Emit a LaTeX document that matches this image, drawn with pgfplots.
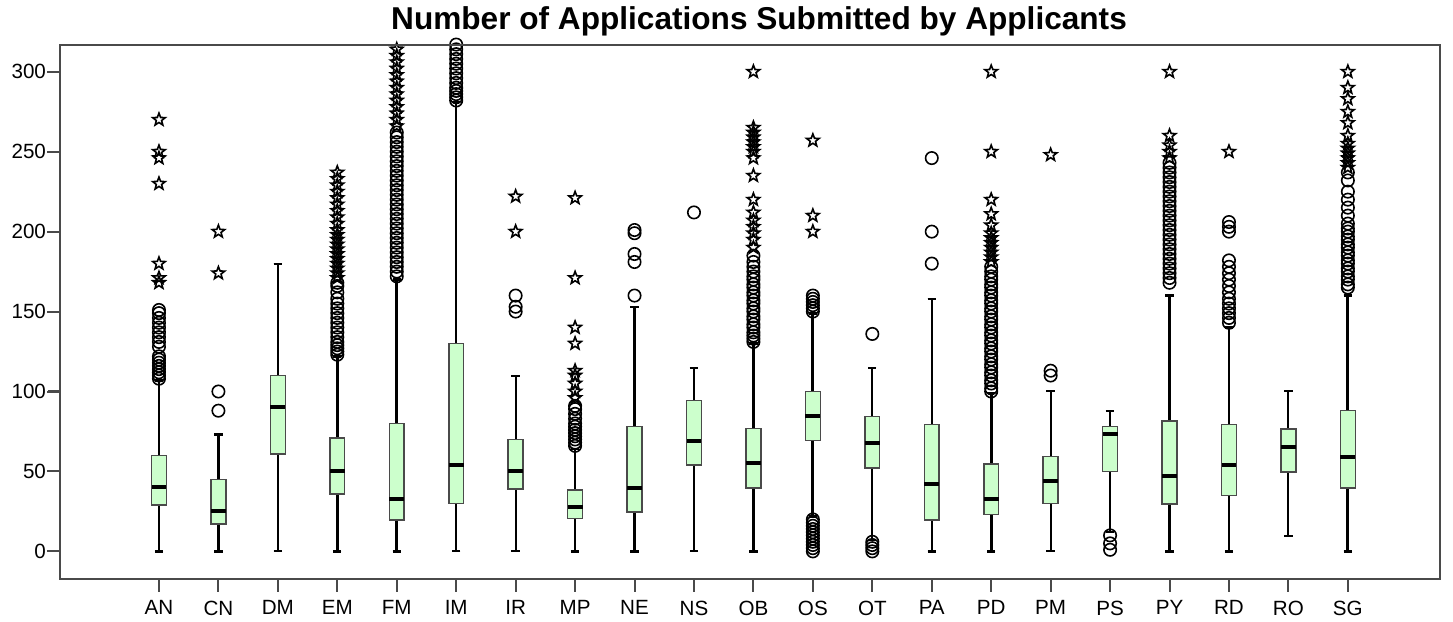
\documentclass[border=0pt]{standalone}
\usepackage{fontspec}
\setmainfont{Liberation Sans}
\usepackage{pgfplots}
\pgfplotsset{compat=1.18}
\usepgfplotslibrary{statistics}
\definecolor{boxgreen}{HTML}{CCFFCC}
\definecolor{framegray}{HTML}{4A4A4A}

% SPSS style extreme-value star (outlined pentagram)
\pgfdeclareplotmark{pstar}{%
  \pgfpathmoveto{\pgfqpointpolar{90}{\pgfplotmarksize}}%
  \pgfpathlineto{\pgfqpointpolar{126}{0.42\pgfplotmarksize}}%
  \pgfpathlineto{\pgfqpointpolar{162}{\pgfplotmarksize}}%
  \pgfpathlineto{\pgfqpointpolar{198}{0.42\pgfplotmarksize}}%
  \pgfpathlineto{\pgfqpointpolar{234}{\pgfplotmarksize}}%
  \pgfpathlineto{\pgfqpointpolar{270}{0.42\pgfplotmarksize}}%
  \pgfpathlineto{\pgfqpointpolar{306}{\pgfplotmarksize}}%
  \pgfpathlineto{\pgfqpointpolar{342}{0.42\pgfplotmarksize}}%
  \pgfpathlineto{\pgfqpointpolar{18}{\pgfplotmarksize}}%
  \pgfpathlineto{\pgfqpointpolar{54}{0.42\pgfplotmarksize}}%
  \pgfpathclose\pgfusepathqstroke}

\pgfplotsset{
  bx/.style={fill=boxgreen, draw=black,
    boxplot/draw direction=y,
    boxplot/box extend=0.25, boxplot/whisker extend=0.14,
    boxplot/every box/.style={draw=framegray, line width=0.75pt},
    boxplot/every whisker/.style={black, line width=#1},
    boxplot/every median/.style={black, line width=2pt}},
  bx/.default=1.4pt,
}

\begin{document}
\begin{tikzpicture}
\begin{axis}[
  scale only axis,
  width=690pt, height=267pt,
  xmin=-1.665, xmax=21.55,
  ymin=-17, ymax=317,
  clip mode=individual,
  axis lines=left,
  axis line style={-, framegray, line width=1pt},
  xtick={0,...,20},
  xticklabels={AN,CN,DM,EM,FM,IM,IR,MP,NE,NS,OB,OS,OT,PA,PD,PM,PS,PY,RD,RO,SG},
  ytick={0,50,...,300},
  tick align=outside,
  major tick length=6pt,
  every tick/.style={draw=framegray, line width=1pt},
  ticklabel style={font=\fontsize{10.3}{12}\selectfont},
  xticklabel style={yshift=-1.5pt},
  yticklabel style={xshift=2.5pt},
  /pgf/number format/assume math mode=true,
]
% boxes: lower whisker, q1, median, q3, upper whisker
\addplot[bx, boxplot prepared={draw position=0, lower whisker=0, lower quartile=29, median=40, upper quartile=60, upper whisker=107}] coordinates {};
\addplot[bx, boxplot prepared={draw position=1, lower whisker=0, lower quartile=17, median=25, upper quartile=45, upper whisker=73}] coordinates {};
\addplot[bx=1pt, boxplot prepared={draw position=2, lower whisker=0, lower quartile=61, median=90, upper quartile=110, upper whisker=180}] coordinates {};
\addplot[bx, boxplot prepared={draw position=3, lower whisker=0, lower quartile=36, median=50, upper quartile=71, upper whisker=122}] coordinates {};
\addplot[bx, boxplot prepared={draw position=4, lower whisker=0, lower quartile=19.5, median=33, upper quartile=80, upper whisker=170}] coordinates {};
\addplot[bx=1pt, boxplot prepared={draw position=5, lower whisker=0, lower quartile=30, median=54, upper quartile=130, upper whisker=281}] coordinates {};
\addplot[bx=1pt, boxplot prepared={draw position=6, lower whisker=0, lower quartile=39, median=50, upper quartile=70, upper whisker=110}] coordinates {};
\addplot[bx, boxplot prepared={draw position=7, lower whisker=0, lower quartile=20.5, median=28, upper quartile=38.5, upper whisker=64}] coordinates {};
\addplot[bx=1.2pt, boxplot prepared={draw position=8, lower whisker=0, lower quartile=24.5, median=39.5, upper quartile=78, upper whisker=153}] coordinates {};
\addplot[bx=1pt, boxplot prepared={draw position=9, lower whisker=0, lower quartile=54, median=69, upper quartile=94.5, upper whisker=115}] coordinates {};
\addplot[bx, boxplot prepared={draw position=10, lower whisker=0, lower quartile=39.5, median=55, upper quartile=77, upper whisker=130}] coordinates {};
\addplot[bx, boxplot prepared={draw position=11, lower whisker=22, lower quartile=69.5, median=84.5, upper quartile=100, upper whisker=149}] coordinates {};
\addplot[bx=1pt, boxplot prepared={draw position=12, lower whisker=7, lower quartile=52, median=67.5, upper quartile=84.5, upper whisker=115}] coordinates {};
\addplot[bx=1.2pt, boxplot prepared={draw position=13, lower whisker=0, lower quartile=19.5, median=42, upper quartile=79.5, upper whisker=158}] coordinates {};
\addplot[bx, boxplot prepared={draw position=14, lower whisker=0, lower quartile=23, median=33, upper quartile=54.5, upper whisker=99}] coordinates {};
\addplot[bx=1pt, boxplot prepared={draw position=15, lower whisker=0, lower quartile=30, median=44, upper quartile=59.5, upper whisker=100}] coordinates {};
\addplot[bx=1pt, boxplot prepared={draw position=16, lower whisker=12, lower quartile=50, median=73.5, upper quartile=78, upper whisker=88}] coordinates {};
\addplot[bx, boxplot prepared={draw position=17, lower whisker=0, lower quartile=29.5, median=47, upper quartile=81.5, upper whisker=160}] coordinates {};
\addplot[bx=1.2pt, boxplot prepared={draw position=18, lower whisker=0, lower quartile=35, median=54, upper quartile=79.5, upper whisker=140}] coordinates {};
\addplot[bx=1pt, boxplot prepared={draw position=19, lower whisker=9.5, lower quartile=49.5, median=65, upper quartile=76.5, upper whisker=100}] coordinates {};
\addplot[bx, boxplot prepared={draw position=20, lower whisker=0, lower quartile=39.5, median=59, upper quartile=88, upper whisker=160}] coordinates {};

% outliers (circles)
\addplot[only marks, mark=o, mark size=3.1pt, mark options={black, line width=0.8pt}] table {
x y
0 108
0 110
0 112
0 114
0 116
0 118
0 120
0 122
0 128
0 131
0 134
0 137
0 140
0 143
0 146
0 149
0 151
1 88
1 100
3 123
3 125
3 127
3 129
3 131
3 134
3 137
3 140
3 143
3 146
3 149
3 152
3 155
3 158
3 162
3 166
3 168
4 172
4 175
4 178
4 181
4 184
4 187
4 190
4 193
4 196
4 199
4 202
4 205
4 208
4 211
4 214
4 217
4 220
4 223
4 226
4 229
4 232
4 235
4 238
4 241
4 244
4 247
4 250
4 253
4 256
4 259
4 262
5 282
5 284
5 286
5 288
5 290
5 293
5 296
5 299
5 302
5 305
5 308
5 311
5 314
5 317
6 150
6 153
6 160
7 66
7 68
7 70
7 72
7 74
7 76
7 78
7 80
7 83
7 86
7 89
7 91
8 160
8 181
8 186
8 199
8 201
9 212
10 131
10 133
10 135
10 137
10 140
10 142
10 145
10 147
10 150
10 152
10 155
10 157
10 160
10 162
10 165
10 167
10 170
10 172
10 175
10 178
10 181
10 185
11 150
11 152
11 154
11 156
11 158
11 160
11 0
11 2
11 4
11 6
11 8
11 10
11 12
11 14
11 16
11 18
11 20
12 136
12 0
12 2
12 4
12 6
13 180
13 200
13 246
14 100
14 102
14 105
14 107
14 110
14 112
14 115
14 117
14 120
14 122
14 125
14 127
14 130
14 132
14 135
14 137
14 140
14 142
14 145
14 147
14 150
14 152
14 155
14 157
14 160
14 162
14 165
14 167
14 170
14 172
14 175
14 178
15 110
15 113
16 1
16 5
16 10
17 168
17 171
17 174
17 177
17 180
17 183
17 186
17 189
17 192
17 195
17 198
17 201
17 204
17 207
17 210
17 213
17 216
17 219
17 222
17 225
17 228
17 231
17 234
17 237
17 240
17 243
18 143
18 146
18 149
18 152
18 155
18 158
18 162
18 166
18 170
18 174
18 178
18 182
18 200
18 203
18 206
20 165
20 167
20 170
20 172
20 175
20 177
20 180
20 182
20 185
20 187
20 190
20 192
20 195
20 197
20 200
20 202
20 205
20 210
20 215
20 220
20 225
20 232
20 237
};

% extreme values (stars)
\addplot[only marks, mark=pstar, mark size=3.3pt, mark options={black, line width=0.8pt}] table {
x y
0 168
0 171
0 180
0 230
0 246
0 250
0 270
1 174
1 200
3 171
3 174
3 177
3 180
3 183
3 186
3 189
3 192
3 195
3 198
3 201
3 205
3 209
3 213
3 217
3 221
3 225
3 229
3 233
3 237
4 266
4 270
4 274
4 278
4 282
4 286
4 290
4 294
4 298
4 302
4 306
4 310
4 314
6 200
6 222
7 96
7 100
7 105
7 110
7 113
7 130
7 140
7 171
7 221
10 190
10 195
10 199
10 203
10 207
10 212
10 220
10 235
10 246
10 250
10 253
10 256
10 259
10 262
10 265
10 300
11 200
11 210
11 257
14 181
14 184
14 187
14 190
14 193
14 196
14 199
14 204
14 211
14 220
14 250
14 300
15 248
17 246
17 250
17 254
17 260
17 300
18 250
20 240
20 243
20 246
20 249
20 252
20 255
20 260
20 268
20 275
20 283
20 290
20 300
};
\end{axis}
\draw[framegray, line width=1pt] (current axis.south west) rectangle (current axis.north east);
% tick marks as thin filled bars: 690pt / 23.215 units along x, 267pt / 334 units along y
\foreach \k in {0,...,20}
  \fill[framegray] ([xshift={(\k+1.665)*29.722pt-0.5pt}]current axis.south west) rectangle ++(1pt,-6.5pt);
\foreach \k in {0,50,...,300}
  \fill[framegray] ([yshift={(\k+17)*0.7994pt-0.5pt}]current axis.south west) rectangle ++(-6.5pt,1pt);
\node[anchor=base, font=\bfseries\fontsize{15.8}{18}\selectfont]
  at ([shift={(349.5pt,274.5pt)}]current axis.south west)
  {Number of Applications Submitted by Applicants};
\path ([shift={(-30pt,-21.5pt)}]current axis.south west) rectangle ++(726.5pt,310.5pt);
\end{tikzpicture}
\end{document}
